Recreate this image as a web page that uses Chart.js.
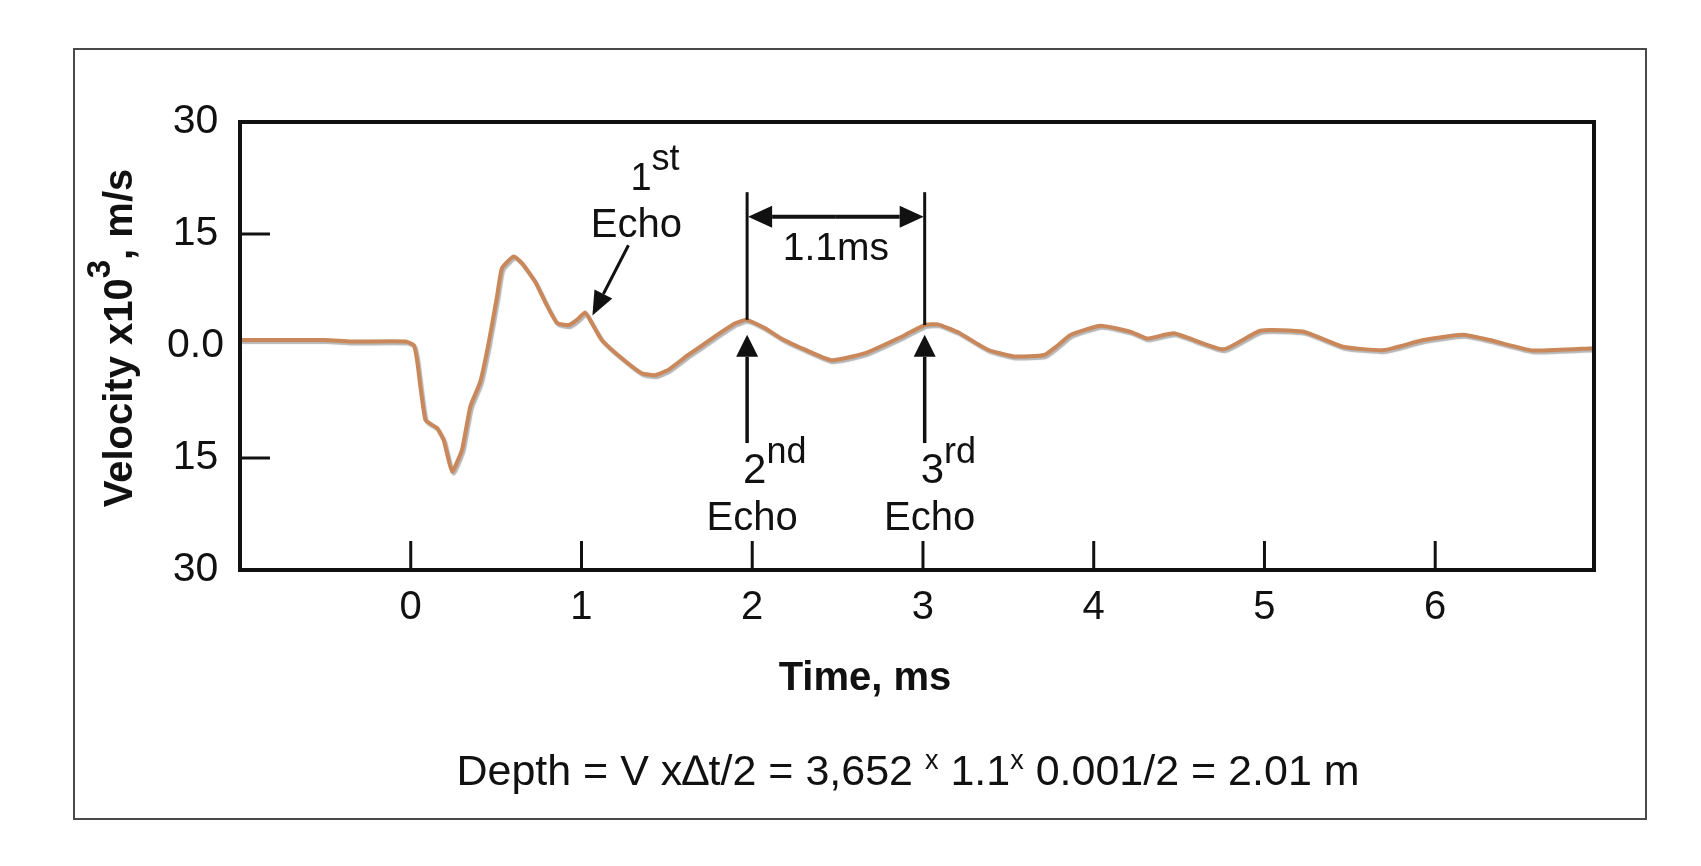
<!DOCTYPE html>
<html>
<head>
<meta charset="utf-8">
<title>Velocity echo trace</title>
<script src="https://cdn.jsdelivr.net/npm/chart.js@4/dist/chart.umd.min.js"></script>
<style>
    html, body { margin: 0; padding: 0; background: #fff; }
    canvas { display: block; }
</style>
</head>
<body>
<canvas id="echo-chart" width="1701" height="866"></canvas>
<script>
// Trace: time in ms, velocity in x10^3 m/s
const timeMs = [
    -1.00, -0.50, -0.35, -0.03, 0.018, 0.037, 0.086, 0.154, 0.193, 0.242,
    0.300, 0.349, 0.407, 0.456, 0.505, 0.534, 0.603, 0.651, 0.729, 0.787,
    0.856, 0.924, 0.973, 1.021, 1.050, 1.119, 1.236, 1.353, 1.430, 1.508,
    1.625, 1.780, 1.898, 1.966, 2.073, 2.170, 2.290, 2.463, 2.657, 2.853,
    3.010, 3.087, 3.200, 3.380, 3.534, 3.710, 3.790, 3.866, 4.040, 4.217,
    4.314, 4.470, 4.760, 4.975, 5.230, 5.460, 5.700, 5.930, 6.160, 6.320,
    6.570, 6.930
];
const velocity = [
    0.8, 0.8, 0.6, 0.6, 0.1, -1.9, -9.9, -11.0, -12.6, -16.8,
    -13.9, -8.1, -4.8, 0.4, 6.6, 10.4, 12.0, 11.1, 8.6, 5.9,
    3.1, 2.8, 3.5, 4.5, 3.5, 0.8, -1.65, -3.65, -3.9, -3.2,
    -1.2, 1.25, 3.0, 3.5, 2.4, 1.0, -0.3, -1.9, -1.0, 1.0,
    2.8, 2.9, 1.9, -0.5, -1.4, -1.2, 0.1, 1.5, 2.7, 1.9,
    1.0, 1.7, -0.45, 2.05, 1.9, -0.1, -0.55, 0.8, 1.5, 0.8,
    -0.6, -0.3
];

const xTickValues = [0, 1, 2, 3, 4, 5, 6];
const yTickValues = [30, 15, 0, -15, -30];
const yTickLabels = ['30', '15', '0.0', '15', '30'];
const yTickMarks = [15, -15];

// Echo markers (time of 2nd and 3rd echo, and the curve value they touch)
const echoTimes = [1.97, 3.01];
const echoPeaks = [3.5, 2.8];
const firstEcho = { t: 1.064, v: 4.1, tailT: 1.275, tailV: 13.5 };

const FONT = "'Liberation Sans', Arial, Helvetica, sans-serif";
const LINE_COLOR = '#c9875a';

function arrow(ctx, x1, y1, x2, y2, len, half) {
    const ang = Math.atan2(y2 - y1, x2 - x1);
    const bx = x2 - len * Math.cos(ang);
    const by = y2 - len * Math.sin(ang);
    ctx.beginPath();
    ctx.moveTo(x1, y1);
    ctx.lineTo(bx, by);
    ctx.stroke();
    ctx.beginPath();
    ctx.moveTo(x2, y2);
    ctx.lineTo(bx + half * Math.sin(ang), by - half * Math.cos(ang));
    ctx.lineTo(bx - half * Math.sin(ang), by + half * Math.cos(ang));
    ctx.closePath();
    ctx.fill();
}

// draws a run of [text, size, rise, weight] pieces, left to right
function runText(ctx, parts, x, y, align) {
    let total = 0;
    parts.forEach(p => {
        ctx.font = (p[3] || '') + ' ' + p[1] + 'px ' + FONT;
        total += ctx.measureText(p[0]).width;
    });
    let cx = align === 'center' ? x - total / 2 : x;
    ctx.textAlign = 'left';
    ctx.textBaseline = 'alphabetic';
    parts.forEach(p => {
        ctx.font = (p[3] || '') + ' ' + p[1] + 'px ' + FONT;
        ctx.fillText(p[0], cx, y - (p[2] || 0));
        cx += ctx.measureText(p[0]).width;
    });
}

const framePlugin = {
    id: 'frame',
    beforeDraw(chart) {
        const ctx = chart.ctx;
        ctx.save();
        ctx.fillStyle = '#fff';
        ctx.fillRect(0, 0, chart.width, chart.height);
        ctx.strokeStyle = '#4a4a4a';
        ctx.lineWidth = 2;
        ctx.strokeRect(74, 49, 1572, 770);
        ctx.restore();
    },
    beforeDatasetDraw(chart) {
        const ctx = chart.ctx;
        ctx.save();
        ctx.shadowColor = 'rgba(110,110,110,0.5)';
        ctx.shadowOffsetX = 1.5;
        ctx.shadowOffsetY = 2;
        ctx.shadowBlur = 1;
    },
    afterDatasetDraw(chart) {
        chart.ctx.restore();
    },
    afterDraw(chart) {
        const ctx = chart.ctx;
        const a = chart.chartArea;
        const xs = chart.scales.x;
        const ys = chart.scales.y;
        ctx.save();
        ctx.strokeStyle = '#111';
        ctx.fillStyle = '#111';

        // plot box and inward ticks
        ctx.lineWidth = 4;
        ctx.strokeRect(a.left, a.top, a.right - a.left, a.bottom - a.top);
        ctx.lineWidth = 3;
        yTickMarks.forEach(v => {
            const y = ys.getPixelForValue(v);
            ctx.beginPath();
            ctx.moveTo(a.left, y);
            ctx.lineTo(a.left + 30, y);
            ctx.stroke();
        });
        xTickValues.forEach(v => {
            const x = xs.getPixelForValue(v);
            ctx.beginPath();
            ctx.moveTo(x, a.bottom);
            ctx.lineTo(x, a.bottom - 29);
            ctx.stroke();
        });

        // 1st echo
        const fx = xs.getPixelForValue(firstEcho.t);
        const fy = ys.getPixelForValue(firstEcho.v);
        const tx = xs.getPixelForValue(firstEcho.tailT);
        const ty = ys.getPixelForValue(firstEcho.tailV);
        ctx.lineWidth = 3;
        arrow(ctx, tx, ty, fx, fy, 24, 10);
        runText(ctx, [['1', 38], ['st', 36, 20]], tx + 2, ty - 55, 'left');
        runText(ctx, [['Echo', 40]], tx + 8, ty - 8, 'center');

        // 2nd and 3rd echo: verticals, spacing arrow, up arrows
        const ex = echoTimes.map(t => xs.getPixelForValue(t));
        const lineTop = ys.getPixelForValue(20.6);
        const spanY = ys.getPixelForValue(17.3);
        ctx.lineWidth = 3;
        ex.forEach((x, i) => {
            ctx.beginPath();
            ctx.moveTo(x, lineTop);
            ctx.lineTo(x, ys.getPixelForValue(echoPeaks[i]));
            ctx.stroke();
        });
        ctx.lineWidth = 4;
        arrow(ctx, (ex[0] + ex[1]) / 2, spanY, ex[1] - 1, spanY, 24, 11);
        arrow(ctx, (ex[0] + ex[1]) / 2, spanY, ex[0] + 1, spanY, 24, 11);
        runText(ctx, [['1.1ms', 39]], (ex[0] + ex[1]) / 2, spanY + 43, 'center');

        const tipY = ys.getPixelForValue(1.5);
        const tailY = ys.getPixelForValue(-13);
        const ords = [['2', 'nd'], ['3', 'rd']];
        ex.forEach((x, i) => {
            ctx.lineWidth = 3.5;
            arrow(ctx, x, tailY, x, tipY, 22, 11);
            runText(ctx, [[ords[i][0], 42], [ords[i][1], 36, 20]], x - 4, tailY + 40, 'left');
            runText(ctx, [['Echo', 40]], x + 5, tailY + 87, 'center');
        });

        // axis titles and formula
        runText(ctx, [['Time, ms', 40, 0, 'bold']], 865, 690, 'center');
        runText(ctx, [
            ['Depth = V x\u2206t/2 = 3,652 ', 43],
            ['x', 27, 16],
            [' 1.1', 43],
            ['x', 27, 16],
            [' 0.001/2 = 2.01 m', 43]
        ], 908, 785, 'center');

        ctx.translate(132, 338);
        ctx.rotate(-Math.PI / 2);
        runText(ctx, [
            ['Velocity x10', 40, 0, 'bold'],
            ['3', 33, 22, 'bold'],
            [', m/s', 40, 0, 'bold']
        ], 0, 0, 'center');
        ctx.restore();
    }
};

document.addEventListener('DOMContentLoaded', function() {
    const ctx = document.getElementById('echo-chart').getContext('2d');
    window.echoChart = new Chart(ctx, {
        type: 'line',
        data: {
            datasets: [{
                label: 'Velocity',
                data: timeMs.map((t, i) => ({ x: t, y: velocity[i] })),
                borderColor: LINE_COLOR,
                borderWidth: 4,
                pointRadius: 0,
                tension: 0.15,
                fill: false
            }]
        },
        options: {
            responsive: false,
            animation: false,
            devicePixelRatio: 1,
            layout: {
                padding: { left: 0, top: 122, right: 107, bottom: 216 }
            },
            plugins: {
                legend: { display: false },
                tooltip: { enabled: false }
            },
            scales: {
                x: {
                    type: 'linear',
                    min: -1,
                    max: 6.93,
                    grid: { display: false, drawTicks: false },
                    border: { display: false },
                    afterBuildTicks: scale => {
                        scale.ticks = xTickValues.map(v => ({ value: v }));
                    },
                    afterFit: scale => { scale.height = 80; },
                    ticks: {
                        color: '#111',
                        padding: 14,
                        maxRotation: 0,
                        autoSkip: false,
                        font: { family: FONT, size: 40 }
                    }
                },
                y: {
                    min: -30,
                    max: 30,
                    grid: { display: false, drawTicks: false },
                    border: { display: false },
                    afterBuildTicks: scale => {
                        scale.ticks = yTickValues.map(v => ({ value: v }));
                    },
                    afterFit: scale => { scale.width = 240; },
                    ticks: {
                        color: '#111',
                        padding: 16,
                        crossAlign: 'center',
                        font: { family: FONT, size: 41 },
                        callback: value => yTickLabels[yTickValues.indexOf(value)]
                    }
                }
            }
        },
        plugins: [framePlugin]
    });
});
</script>
</body>
</html>
